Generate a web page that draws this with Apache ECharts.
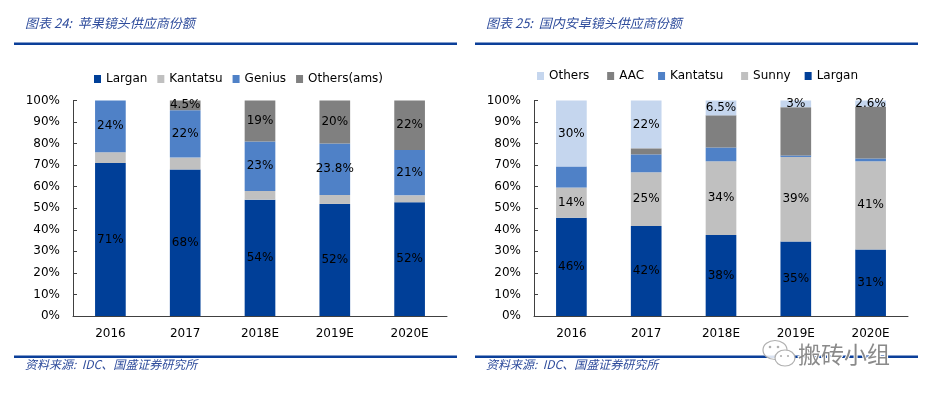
<!DOCTYPE html>
<html>
<head>
<meta charset="utf-8">
<script src="https://cdn.jsdelivr.net/npm/echarts@6/dist/echarts.min.js"></script>
<style>
html,body{margin:0;padding:0;background:#fff;}
#c{width:926px;height:396px;}
</style>
</head>
<body>
<div id="c"></div>
<script>
// ---------- DATA ----------
const categories = ['2016', '2017', '2018E', '2019E', '2020E'];
const yTicks = ['0%','10%','20%','30%','40%','50%','60%','70%','80%','90%','100%'];

// Chart 24: Apple lens suppliers
const appleLargan   = [71, 68, 54, 52, 52.8];
const appleKantatsu = [5, 5.5, 4, 4.2, 3.2];
const appleGenius   = [24, 22, 23, 23.8, 21];
const appleOthers   = [0, 4.5, 19, 20, 23];
const appleLarganLbl = ['71%', '68%', '54%', '52%', '52%'];
const appleGeniusLbl = ['24%', '22%', '23%', '23.8%', '21%'];
const appleOthersLbl = ['', '4.5%', '19%', '20%', '22%'];

// Chart 25: Domestic Android lens suppliers
const andLargan   = [45.6, 41.8, 37.6, 34.6, 30.9];
const andSunny    = [14, 24.9, 34.2, 39.2, 40.9];
const andKantatsu = [9.8, 8.3, 6.4, 0.7, 1.3];
const andAAC      = [0, 2.8, 14.9, 22.4, 24.1];
const andOthers   = [30.6, 22.2, 6.9, 3.1, 2.8];
const andLarganLbl = ['46%', '42%', '38%', '35%', '31%'];
const andSunnyLbl  = ['14%', '25%', '34%', '39%', '41%'];
const andOthersLbl = ['30%', '22%', '6.5%', '3%', '2.6%'];

// ---------- STYLE ----------
const C_LARGAN = '#003F98', C_GRAY_L = '#C0C0C0', C_BLUE_M = '#4F81C7', C_GRAY_D = '#808080', C_LIGHT = '#C5D6EE';
const FONT = 'DejaVu Sans';
const TITLE_COLOR = '#2E4C9C';
const LINE_COLOR = '#0B3F99';

function bar(name, data, color, grid, labels) {
  const s = {
    name, type: 'bar', stack: 'g' + grid, xAxisIndex: grid, yAxisIndex: grid,
    data, barWidth: '41%', itemStyle: { color },
    label: { show: false }
  };
  if (labels) {
    s.label = {
      show: true, position: 'inside', color: '#000', fontFamily: FONT, fontSize: 12,
      formatter: p => labels[p.dataIndex]
    };
    s.labelLayout = { hideOverlap: false };
  }
  return s;
}

function xAxis(grid) {
  return {
    type: 'category', gridIndex: grid, data: categories,
    axisLine: { lineStyle: { color: '#404040', width: 1 } },
    axisTick: { inside: true, length: 4, lineStyle: { color: '#404040' } },
    axisLabel: { color: '#000', fontFamily: FONT, fontSize: 12, margin: 12 }
  };
}
function yAxis(grid) {
  return {
    type: 'value', gridIndex: grid, min: 0, max: 100, interval: 10,
    axisLine: { show: true, lineStyle: { color: '#404040', width: 1 } },
    axisTick: { show: true, inside: true, length: 4, lineStyle: { color: '#404040' } },
    splitLine: { show: false },
    axisLabel: { color: '#000', fontFamily: FONT, fontSize: 12, margin: 13,
      formatter: v => yTicks[Math.round(v / 10)] }
  };
}

const chart = echarts.init(document.getElementById('c'));
const option = {
  animation: false,
  backgroundColor: '#fff',
  grid: [
    { left: 73, right: 479, top: 100.5, bottom: 80 },
    { left: 534, right: 18, top: 100.5, bottom: 80 }
  ],
  legend: [
    { data: ['Largan', 'Kantatsu', 'Genius', 'Others(ams)'], left: 89, top: 68,
      itemWidth: 7, itemHeight: 8, itemGap: 10, icon: 'rect',
      textStyle: { fontFamily: FONT, fontSize: 12, color: '#000' } },
    { data: ['Others ', 'AAC', 'Kantatsu ', 'Sunny', 'Largan '], left: 532, top: 65,
      itemWidth: 7, itemHeight: 8, itemGap: 14, icon: 'rect',
      textStyle: { fontFamily: FONT, fontSize: 12, color: '#000' } }
  ],
  xAxis: [xAxis(0), xAxis(1)],
  yAxis: [yAxis(0), yAxis(1)],
  series: [
    bar('Largan', appleLargan, C_LARGAN, 0, appleLarganLbl),
    bar('Kantatsu', appleKantatsu, C_GRAY_L, 0, null),
    bar('Genius', appleGenius, C_BLUE_M, 0, appleGeniusLbl),
    bar('Others(ams)', appleOthers, C_GRAY_D, 0, appleOthersLbl),
    bar('Largan ', andLargan, C_LARGAN, 1, andLarganLbl),
    bar('Sunny', andSunny, C_GRAY_L, 1, andSunnyLbl),
    bar('Kantatsu ', andKantatsu, C_BLUE_M, 1, null),
    bar('AAC', andAAC, C_GRAY_D, 1, null),
    bar('Others ', andOthers, C_LIGHT, 1, andOthersLbl)
  ],
  graphic: [
    { type: 'text', left: 25, top: 17, style: { text: '图表 24:  苹果镜头供应商份额', fill: TITLE_COLOR,
      font: 'italic 13px "Noto Sans CJK SC", "DejaVu Sans"' } },
    { type: 'text', left: 486, top: 17, style: { text: '图表 25:  国内安卓镜头供应商份额', fill: TITLE_COLOR,
      font: 'italic 13px "Noto Sans CJK SC", "DejaVu Sans"' } },
    { type: 'rect', shape: { x: 14, y: 42.5, width: 443, height: 2.5 }, style: { fill: LINE_COLOR } },
    { type: 'rect', shape: { x: 475, y: 42.5, width: 443, height: 2.5 }, style: { fill: LINE_COLOR } },
    { type: 'rect', shape: { x: 14, y: 355.5, width: 443, height: 2.5 }, style: { fill: LINE_COLOR } },
    { type: 'rect', shape: { x: 475, y: 355.5, width: 443, height: 2.5 }, style: { fill: LINE_COLOR } },
    { type: 'text', left: 25, top: 358, style: { text: '资料来源:  IDC、国盛证券研究所', fill: TITLE_COLOR,
      font: 'italic 12px "Noto Sans CJK SC", "DejaVu Sans"' } },
    { type: 'text', left: 486, top: 358, style: { text: '资料来源:  IDC、国盛证券研究所', fill: TITLE_COLOR,
      font: 'italic 12px "Noto Sans CJK SC", "DejaVu Sans"' } },
    // watermark icon
    { type: 'ellipse', shape: { cx: 775, cy: 350, rx: 12, ry: 9.5 },
      style: { fill: 'rgba(255,255,255,0.85)', stroke: '#b0b0b0', lineWidth: 1.2 }, z: 100 },
    { type: 'ellipse', shape: { cx: 785, cy: 358, rx: 10, ry: 8 },
      style: { fill: '#fff', stroke: '#b0b0b0', lineWidth: 1.2 }, z: 101 },
    { type: 'circle', shape: { cx: 770, cy: 347, r: 1.3 }, style: { fill: '#b0b0b0' }, z: 102 },
    { type: 'circle', shape: { cx: 778, cy: 347, r: 1.3 }, style: { fill: '#b0b0b0' }, z: 102 },
    { type: 'circle', shape: { cx: 781, cy: 356, r: 1.1 }, style: { fill: '#b0b0b0' }, z: 102 },
    { type: 'circle', shape: { cx: 788, cy: 356, r: 1.1 }, style: { fill: '#b0b0b0' }, z: 102 },
    { type: 'text', left: 797, top: 342, z: 103, style: { text: '搬砖小组', fill: '#8a8a8a',
      stroke: '#fff', lineWidth: 2, font: '23px "Noto Sans CJK SC"' } }
  ]
};
chart.setOption(option);
</script>
</body>
</html>
